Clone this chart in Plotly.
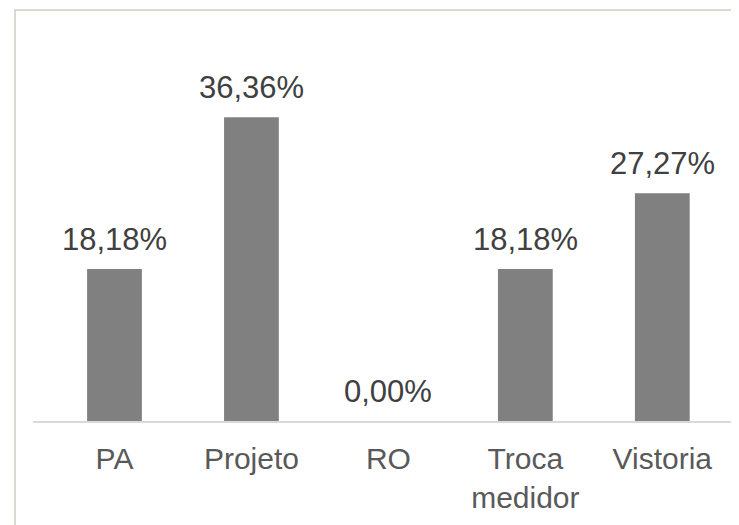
import plotly.graph_objects as go

categories = ["PA", "Projeto", "RO", "Troca<br>medidor", "Vistoria"]
values = [18.18, 36.36, 0.00, 18.18, 27.27]
labels = ["18,18%", "36,36%", "0,00%", "18,18%", "27,27%"]

FONT = "Liberation Sans, Arial, sans-serif"

fig = go.Figure()
fig.add_trace(go.Bar(
    x=list(range(len(categories))), y=values,
    width=0.40, marker=dict(color="#808080", line=dict(width=0)),
    hoverinfo="skip",
))

for i, (v, t) in enumerate(zip(values, labels)):
    fig.add_annotation(x=i, y=v, text=t, showarrow=False, yanchor="bottom",
                       yshift=10, font=dict(family=FONT, size=31, color="#404040"))

fig.add_shape(type="rect", xref="paper", yref="paper",
              x0=-0.0255, x1=1.2, y0=-0.5, y1=1.108,
              line=dict(color="#d9d9d0", width=2), fillcolor="rgba(0,0,0,0)")

fig.update_layout(
    width=739, height=525,
    margin=dict(l=25, r=8, t=42, b=112),
    paper_bgcolor="white", plot_bgcolor="white",
    showlegend=False,
    xaxis=dict(range=[-0.595, 4.56], tickmode="array",
               tickvals=list(range(len(categories))), ticktext=categories,
               showline=True, linecolor="#d9d9d9", linewidth=2,
               showgrid=False, zeroline=False, ticks="",
               ticklabelstandoff=10,
               tickfont=dict(family=FONT, size=30, color="#595959"),
               fixedrange=True),
    yaxis=dict(range=[0, 44.4], visible=False, showgrid=False,
               zeroline=False, fixedrange=True),
)

fig.write_html("out.html")
